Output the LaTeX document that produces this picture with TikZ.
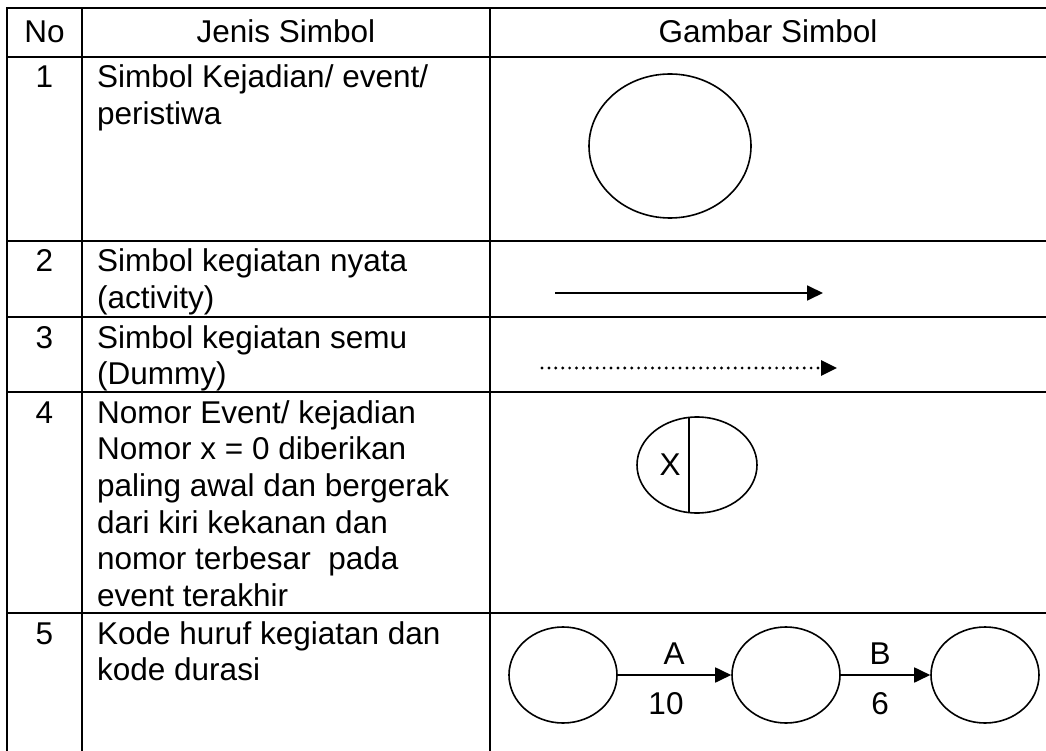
\documentclass[tikz,border=0pt]{standalone}
\usepackage{fontspec}
\setmainfont{Liberation Sans}
\usetikzlibrary{arrows.meta,shapes.geometric}
\begin{document}
\begin{tikzpicture}[x=1pt,y=-1pt,
  grid/.style={line width=2pt, line cap=rect},
  txt/.style={anchor=base west, inner sep=0pt, font=\fontsize{31.5}{36.7}\selectfont},
  num/.style={anchor=base, inner sep=0pt, font=\fontsize{31.5}{36.7}\selectfont},
  evt/.style={draw, ellipse, line width=1.6pt, inner sep=0pt},
  act/.style={line width=1.8pt, -{Triangle[length=16pt,width=15pt]}},
  dum/.style={line width=3.2pt, line cap=round, dash pattern=on 0pt off 6.9pt, -{Triangle[length=16pt,width=15pt]}}]
\useasboundingbox (0,0) rectangle (1046,751);
% table grid
\foreach \yy in {8,57,241,317,392,613} \draw[grid] (7,\yy) -- (1047,\yy);
\foreach \xx in {7,82,490} \draw[grid] (\xx,8) -- (\xx,752);
% header
\node[num] (hno) at (44.5,43) {No};
\node[num] (hjenis) at (286,43) {Jenis Simbol};
\node[num] (hgambar) at (768,43) {Gambar Simbol};
% numbers
\node[num] (n1) at (44.5,88) {1};
\node[num] (n2) at (44.5,272) {2};
\node[num] (n3) at (44.5,348) {3};
\node[num] (n4) at (44.5,423) {4};
\node[num] (n5) at (44.5,644) {5};
% descriptions
\node[txt] (t1) at (97,88) {\parbox[t]{390pt}{Simbol Kejadian/ event/\\peristiwa}};
\node[txt] (t2) at (97,272) {\parbox[t]{390pt}{Simbol kegiatan nyata\\(activity)}};
\node[txt] (t3) at (97,348) {\parbox[t]{390pt}{Simbol kegiatan semu\\(Dummy)}};
\node[txt] (t4) at (97,423) {\parbox[t]{390pt}{Nomor Event/ kejadian\\Nomor x = 0 diberikan\\paling awal dan bergerak\\dari kiri kekanan dan\\nomor terbesar\ \ pada\\event terakhir}};
\node[txt] (t5) at (97,644) {\parbox[t]{390pt}{Kode huruf kegiatan dan\\kode durasi}};
% row 1
\node[evt, minimum width=162pt, minimum height=144pt] (ev1) at (670,146) {};
% row 2
\coordinate (a2s) at (555,293);
\coordinate (a2e) at (823,293);
\draw[act] (a2s) -- (a2e);
% row 3
\coordinate (a3s) at (542,368);
\coordinate (a3e) at (837,368);
\draw[dum] (a3s) -- (a3e);
% row 4
\node[evt, minimum width=120pt, minimum height=96pt] (ev4) at (697,465) {};
\coordinate (v4t) at (689,417.4);
\coordinate (v4b) at (689,512.6);
\draw[line width=1.6pt] (v4t) -- (v4b);
\node[num, anchor=center] (x4) at (670,465) {X};
% row 5
\node[evt, minimum width=108pt, minimum height=96pt] (e1) at (563,675) {};
\node[evt, minimum width=108pt, minimum height=96pt] (e2) at (786,675) {};
\node[evt, minimum width=108pt, minimum height=96pt] (e3) at (985,675) {};
\draw[act] (e1) -- (e2);
\draw[act] (e2) -- (e3);
\node[num] (la) at (674,664) {A};
\node[num] (l10) at (666,714) {10};
\node[num] (lb) at (880,664) {B};
\node[num] (l6) at (880,714) {6};
\end{tikzpicture}
\end{document}
